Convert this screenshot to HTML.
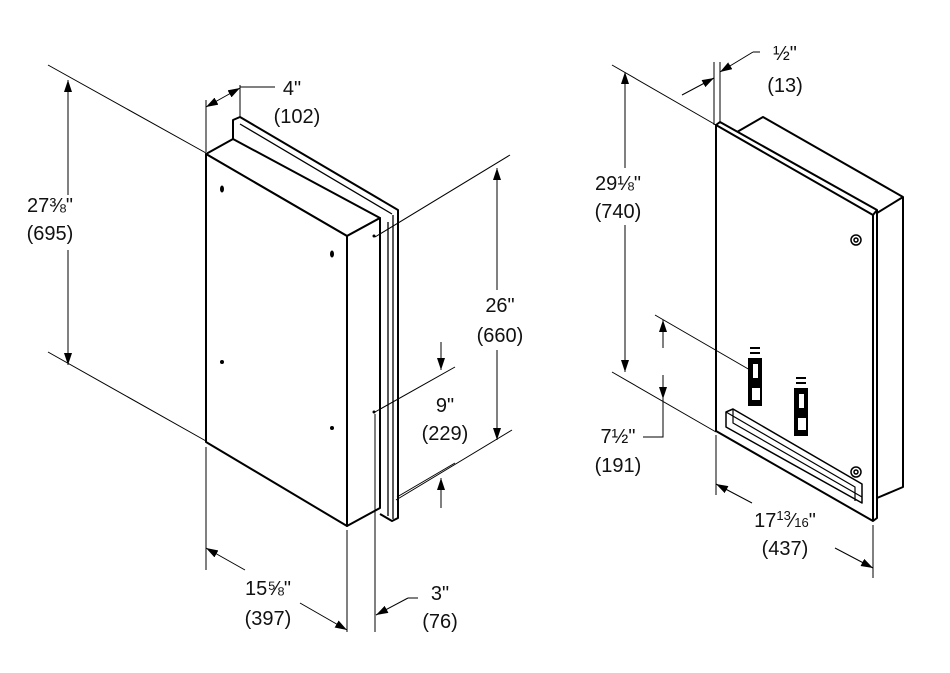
<!DOCTYPE html>
<html><head><meta charset="utf-8"><style>
html,body{margin:0;padding:0;background:#fff}
svg{display:block}
text{font-family:"Liberation Sans",sans-serif;font-size:20px;fill:#111;text-anchor:middle}
</style></head><body>
<svg width="950" height="673" viewBox="0 0 950 673" xmlns="http://www.w3.org/2000/svg">
<defs>
<marker id="a" viewBox="0 0 12 8" refX="12" refY="4" markerWidth="12" markerHeight="8" markerUnits="userSpaceOnUse" orient="auto-start-reverse">
<path d="M0,0 L12,4 L0,8 z" fill="#000"/></marker>
</defs>
<g fill="none" stroke="#000">
<!-- LEFT UNIT -->
<g stroke-width="2" stroke-linejoin="round">
<path d="M233,140 L233,120 L240,117 L398,210 L398,518 L392,521 L380,514" fill="#fff"/>
<path d="M240,124 L392,214 M388,222 L388,516 M393,215 L393,519" stroke-width="1.3"/>
<polygon points="206,154 233,139 380,218 347,236" fill="#fff"/>
<polygon points="347,236 380,218 380,508 347,526" fill="#fff"/>
<polygon points="206,154 347,236 347,526 206,442" fill="#fff"/>
</g>
<g fill="#000" stroke="none">
<circle cx="374" cy="236" r="1.5"/><circle cx="374" cy="412" r="1.5"/>
<circle cx="222" cy="362" r="2"/><circle cx="332" cy="428" r="2"/>
<ellipse cx="222" cy="189" rx="2" ry="3.5"/><ellipse cx="332" cy="254" rx="2" ry="3.5"/>
</g>
<!-- RIGHT UNIT -->
<g stroke-width="2" stroke-linejoin="round">
<polygon points="737,132 763,117 903,197 903,487 877,498 877,213" fill="#fff"/>
<path d="M877,213 L903,197"/>
<polygon points="716,125 720,122 877,210 877,518 873,521 716,431" fill="#fff"/>
<path d="M716,125 L873,215 L873,521 M873,215 L877,210"/>
<path d="M726,412 L733,409 L862,484 L862,503 L726,427 Z" stroke-width="1.5"/>
<path d="M733,409 L733,423 L862,497 M726,412 L855,487 L855,501" stroke-width="1.2"/>
</g>
<g stroke-width="1.5">
<circle cx="856" cy="240" r="5"/><circle cx="856" cy="240" r="2"/>
<circle cx="856" cy="472" r="5"/><circle cx="856" cy="472" r="2"/>
</g>
<g fill="#000" stroke="none">
<rect x="750" y="347" width="10" height="2"/><rect x="750" y="352" width="10" height="2"/>
<rect x="748" y="358" width="14" height="48"/>
<rect x="796" y="377" width="10" height="2"/><rect x="796" y="382" width="10" height="2"/>
<rect x="794" y="388" width="14" height="48"/>
</g>
<g fill="#fff" stroke="none">
<rect x="753" y="364" width="5" height="14"/><rect x="752" y="388" width="8" height="12"/>
<rect x="799" y="394" width="5" height="14"/><rect x="798" y="418" width="8" height="12"/>
</g>

<!-- DIMENSIONS LEFT -->
<g stroke-width="1">
<path d="M48,65 L206,153 M48,352 L206,441"/>
<path d="M68,195 L68,80" marker-end="url(#a)"/><path d="M68,250 L68,365" marker-end="url(#a)"/>
<path d="M206,100 L206,152 M240,85 L240,118 M240,87 L275,87"/>
<path d="M206,107 L240,88" marker-start="url(#a)" marker-end="url(#a)"/>
<path d="M375,237 L510,155 M396,500 L512,430"/>
<path d="M497,290 L497,168" marker-end="url(#a)"/><path d="M497,350 L497,440" marker-end="url(#a)"/>
<path d="M375,412 L455,367 M397,497 L455,463"/>
<path d="M441,342 L441,370" marker-end="url(#a)"/><path d="M441,508 L441,478" marker-end="url(#a)"/>
<path d="M206,447 L206,570 M347,530 L347,632 M375,414 L375,632"/>
<path d="M245,570 L206,548" marker-end="url(#a)"/><path d="M300,603 L347,630" marker-end="url(#a)"/>
<path d="M408,598 L376,615" marker-end="url(#a)"/><path d="M408,598 L418,598"/>
<!-- DIMENSIONS RIGHT -->
<path d="M714,62 L714,125 M720,62 L720,122"/>
<path d="M682,95 L714,78" marker-end="url(#a)"/><path d="M753,52 L720,72" marker-end="url(#a)"/><path d="M753,52 L760,52"/>
<path d="M612,65 L716,125 M612,372 L716,432"/>
<path d="M625,168 L625,72" marker-end="url(#a)"/><path d="M625,225 L625,372" marker-end="url(#a)"/>
<path d="M655,315 L750,370"/>
<path d="M663,348 L663,320" marker-end="url(#a)"/><path d="M663,375 L663,399" marker-end="url(#a)"/>
<path d="M663,399 L663,437 L643,437"/>
<path d="M716,435 L716,495 M873,525 L873,578"/>
<path d="M752,503 L716,484" marker-end="url(#a)"/><path d="M835,548 L873,568" marker-end="url(#a)"/>
</g>
</g>
<text x="50" y="212">27⅜"</text><text x="50" y="240">(695)</text>
<text x="292" y="95">4"</text><text x="297" y="123">(102)</text>
<text x="500" y="312">26"</text><text x="500" y="342">(660)</text>
<text x="445" y="412">9"</text><text x="445" y="440">(229)</text>
<text x="268" y="595">15⅝"</text><text x="268" y="625">(397)</text>
<text x="440" y="600">3"</text><text x="440" y="628">(76)</text>
<text x="785" y="60">½"</text><text x="785" y="92">(13)</text>
<text x="618" y="190">29⅛"</text><text x="618" y="218">(740)</text>
<text x="618" y="443">7½"</text><text x="618" y="472">(191)</text>
<text x="785" y="527">17<tspan font-size="13" dy="-7">13</tspan><tspan dy="7">⁄</tspan><tspan font-size="13">16</tspan>"</text>
<text x="785" y="555">(437)</text>
</svg>
</body></html>
